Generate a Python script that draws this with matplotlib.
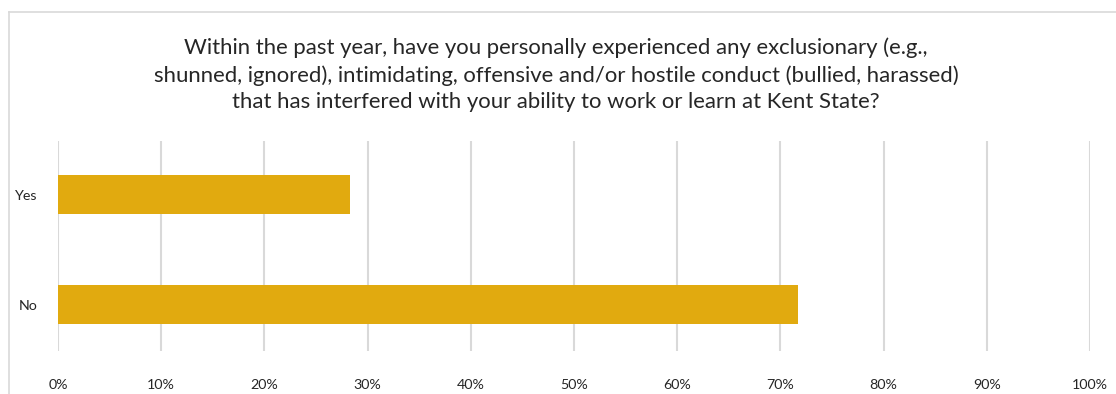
import matplotlib
matplotlib.use('Agg')
import matplotlib.pyplot as plt
from matplotlib.lines import Line2D
from matplotlib.ticker import FuncFormatter

# survey responses, share of respondents
answers = ['No', 'Yes']
shares = [71.7, 28.3]
xticks = [0, 10, 20, 30, 40, 50, 60, 70, 80, 90, 100]

question = ('Within the past year, have you personally experienced any exclusionary (e.g.,\n'
            'shunned, ignored), intimidating, offensive and/or hostile conduct (bullied, harassed)\n'
            'that has interfered with your ability to work or learn at Kent State?')

plt.rcParams['font.family'] = ['Lato', 'DejaVu Sans']

W, H = 1116, 394
fig = plt.figure(figsize=(W / 100, H / 100), dpi=100)

# chart frame (only the top and left edges are in view)
fig.add_artist(Line2D([8.5 / W, 8.5 / W], [0, 1 - 11.5 / H], transform=fig.transFigure,
                      color='#d9d9d9', lw=1.2))
fig.add_artist(Line2D([8.5 / W, 1], [1 - 11.5 / H, 1 - 11.5 / H], transform=fig.transFigure,
                      color='#d9d9d9', lw=1.2))

ax = fig.add_axes([58 / W, (H - 351) / H, 1032 / W, 210 / H])
ax.barh(range(len(answers)), shares, height=0.355, color='#E1AA0F', zorder=3)

ax.set_xlim(0, 100)
ax.set_ylim(-0.42, 1.49)
ax.set_xticks(xticks)
ax.xaxis.set_major_formatter(FuncFormatter(lambda v, p: f'{v:.0f}%'))
ax.set_yticks(range(len(answers)))
ax.set_yticklabels(answers)
ax.grid(axis='x', color='#d9d9d9', lw=1.5, zorder=0)
for s in ax.spines.values():
    s.set_visible(False)
ax.tick_params(axis='both', length=0, labelsize=10.3, labelcolor='#262626')
ax.tick_params(axis='x', pad=20)
ax.tick_params(axis='y', pad=15)

fig.text(556 / W, 1 - 75 / H, question, ha='center', va='center', fontsize=15.9,
         color='#262626', linespacing=1.4)

fig.savefig('out.png', dpi=100)
